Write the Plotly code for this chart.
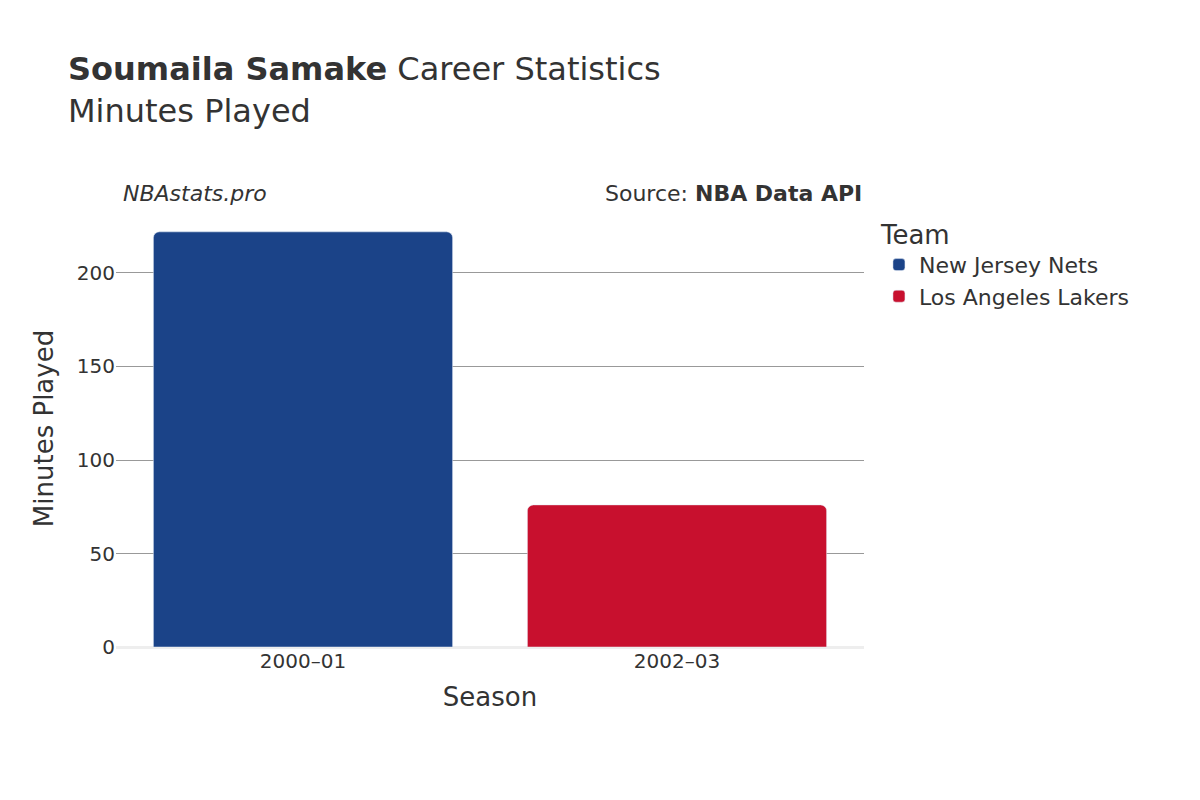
import plotly.graph_objects as go

teams = ["New Jersey Nets", "Los Angeles Lakers"]
seasons = ["2000–01", "2002–03"]
minutes = [222, 76]
colors = ["#1B4388", "#C8102E"]

fig = go.Figure()
for t, s, m, c in zip(teams, seasons, minutes, colors):
    fig.add_trace(go.Bar(name=t, x=[s], y=[m], marker_color=c, width=0.8))

fig.update_layout(
    width=1200, height=800,
    font=dict(family="DejaVu Sans", color="#333", size=20),
    barmode="overlay", barcornerradius=6,
    plot_bgcolor="white", paper_bgcolor="white",
    margin=dict(l=108, r=344, t=202, b=161),
    title=dict(text="<b>Soumaila Samake</b> Career Statistics<br>Minutes Played",
               x=0.05, xanchor="left", y=0.91, yanchor="top", font=dict(size=32)),
    legend=dict(title=dict(text="Team", font=dict(size=26)), x=1.02, y=1.0,
                xanchor="left", yanchor="top", font=dict(size=22)),
    xaxis=dict(title=dict(text="Season", font=dict(size=26)), categoryorder="array",
               categoryarray=seasons),
    yaxis=dict(title=dict(text="Minutes Played", font=dict(size=26)), gridcolor="#999",
               zeroline=True, zerolinecolor="#eee", zerolinewidth=3, ticklen=35,
               tickcolor="rgba(0,0,0,0)"),
    annotations=[
        dict(text="<i>NBAstats.pro</i>", x=0.0, y=1.0, xref="paper", yref="paper",
             xanchor="left", yanchor="bottom", showarrow=False, xshift=5, yshift=2,
             font=dict(size=22)),
        dict(text="Source: <b>NBA Data API</b>", x=1.0, y=1.0, xref="paper", yref="paper",
             xanchor="right", yanchor="bottom", showarrow=False, yshift=2,
             font=dict(size=22)),
    ],
)
fig.write_html("out.html")
